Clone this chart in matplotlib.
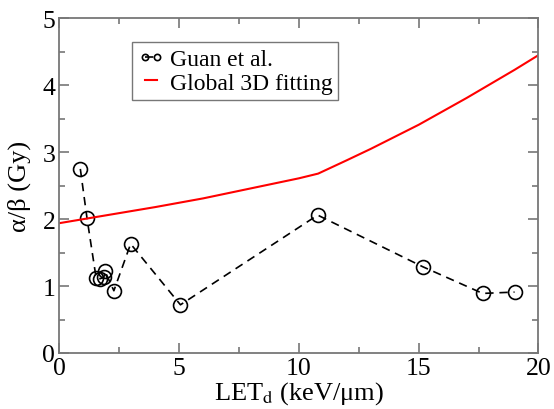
import matplotlib
matplotlib.use("Agg")
import matplotlib.pyplot as plt
from matplotlib.ticker import MultipleLocator

plt.rcParams['font.family'] = ['Liberation Serif', 'DejaVu Serif']
plt.rcParams['mathtext.fontset'] = 'stix'

# Guan et al. data
guan_let = [0.87, 1.15, 1.53, 1.70, 1.85, 1.90, 2.27, 2.97, 5.05, 10.78, 15.16, 17.67, 19.0]
guan_ab = [2.75, 2.01, 1.12, 1.11, 1.13, 1.22, 0.93, 1.63, 0.72, 2.06, 1.29, 0.89, 0.91]

# Global 3D fitting curve
fit_let = [0.0, 2.0, 4.0, 6.0, 8.0, 10.0, 10.8, 12.0, 13.0, 14.0, 15.0, 16.0, 17.0, 18.0, 19.0, 20.0]
fit_ab = [1.94, 2.06, 2.18, 2.31, 2.46, 2.61, 2.68, 2.88, 3.05, 3.23, 3.41, 3.61, 3.81, 4.02, 4.23, 4.45]

fig = plt.figure(figsize=(5.54, 4.10), dpi=100)
ax = fig.add_axes([0.1074, 0.1366, 0.8646, 0.8163])

ax.plot(guan_let, guan_ab, color='black', linestyle=(0, (5, 3.5)), linewidth=1.2,
        marker='o', markersize=10, markerfacecolor='none', markeredgecolor='black',
        markeredgewidth=1.2, label='Guan et al.')
ax.plot(fit_let, fit_ab, color='red', linewidth=1.5, label='Global 3D fitting')

ax.set_xlim(0, 20)
ax.set_ylim(0, 5)
ax.xaxis.set_major_locator(MultipleLocator(5))
ax.xaxis.set_minor_locator(MultipleLocator(2.5))
ax.yaxis.set_major_locator(MultipleLocator(1))
ax.yaxis.set_minor_locator(MultipleLocator(0.5))

for s in ax.spines.values():
    s.set_color('#777777')
    s.set_linewidth(1.3)
ax.tick_params(which='both', direction='in', top=True, right=True, color='#777777', width=1.2)
ax.tick_params(which='major', length=7, labelsize=18.5, pad=3)
ax.tick_params(which='minor', length=4)

ax.set_xlabel(r'LET$_\mathrm{d}$ (keV/μm)', fontsize=19, labelpad=0)
ax.set_ylabel('α/β (Gy)', fontsize=19, labelpad=8)

leg = ax.legend(loc='upper left', bbox_to_anchor=(0.151, 0.928),
                prop={'family': 'Liberation Serif', 'size': 17},
                frameon=True, fancybox=False, numpoints=2, markerscale=0.45,
                handlelength=1.1, handletextpad=0.25, borderpad=0.25,
                labelspacing=0.1, borderaxespad=0)
leg.get_frame().set_edgecolor('#555555')
leg.get_frame().set_linewidth(1.0)

fig.savefig('out.png', dpi=100)
